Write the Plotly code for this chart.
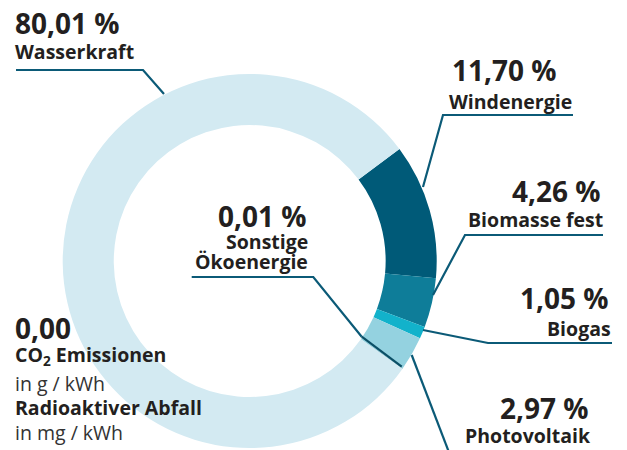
import plotly.graph_objects as go

W, H = 627, 450

# ---- data ----
labels = ["Windenergie", "Biomasse fest", "Biogas", "Photovoltaik", "Sonstige Ökoenergie", "Wasserkraft"]
values = [11.70, 4.26, 1.05, 2.97, 0.01, 80.01]
value_texts = ["11,70 %", "4,26 %", "1,05 %", "2,97 %", "0,01 %", "80,01 %"]
colors = ["#005a78", "#0e7d99", "#12b2cb", "#94d2e0", "#0b4f66", "#d3eaf2"]

LINE = "#0b5a77"
TXT = "#231f20"

def px(x):
    return x / W

def py(y):
    return 1 - y / H

cx, cy, R = 249.7, 261.0, 187.0

fig = go.Figure(go.Pie(
    labels=labels, values=values, sort=False, direction="clockwise",
    rotation=53.2, hole=0.727, textinfo="none", hoverinfo="label+percent",
    marker=dict(colors=colors, line=dict(width=0)),
    domain=dict(x=[px(cx - R), px(cx + R)], y=[py(cy + R), py(cy - R)]),
    showlegend=False,
))

FONT = "Open Sans"
ann = []

def label(x, y, text, size, anchor, bold=True, color=TXT):
    ann.append(dict(x=px(x), y=py(y), xref="paper", yref="paper", text=text,
                    showarrow=False, xanchor=anchor, yanchor="middle",
                    font=dict(family=FONT, size=size, color=color,
                              weight=700 if bold else 400),
                    borderpad=0))

NUM, NAME = 28, 19.5

# Wasserkraft (index 5)
label(14, 23, value_texts[5], NUM, "left")
label(14, 52, labels[5], NAME, "left")
# Windenergie
label(558, 70, value_texts[0], NUM, "right")
label(573, 101, labels[0], NAME, "right")
# Biomasse fest
label(602, 191, value_texts[1], NUM, "right")
label(604, 219, labels[1], NAME, "right")
# Biogas
label(610, 298, value_texts[2], NUM, "right")
label(612, 328, labels[2], NAME, "right")
# Photovoltaik
label(590, 408, value_texts[3], NUM, "right")
label(592, 435, labels[3], NAME, "right")
# Sonstige
label(308, 216, value_texts[4], NUM, "right")
label(309, 241, "Sonstige", NAME, "right")
label(309, 261, "Ökoenergie", NAME, "right")
# left block
label(14, 328, "0,00", NUM, "left")
label(14, 355, "CO<sub>2</sub> Emissionen", NAME, "left")
label(14, 383, "in g / kWh", NAME, "left", bold=False, color="#333333")
label(14, 407, "Radioaktiver Abfall", NAME, "left")
label(14, 432, "in mg / kWh", NAME, "left", bold=False, color="#333333")

def path(points, color=LINE):
    d = "M " + " L ".join(f"{px(x)},{py(y)}" for x, y in points)
    return dict(type="path", path=d, xref="paper", yref="paper",
                line=dict(color=color, width=2.2), layer="above")

shapes = [
    path([(16, 70), (143, 70), (164, 94)]),
    path([(573, 115), (443, 115), (423, 187)]),
    path([(603, 235), (465, 235), (433, 295)]),
    path([(612, 343), (488, 343), (423, 330)]),
    path([(411.7, 355), (450, 455)]),
    path([(191.7, 277), (313.3, 277), (361.7, 336.7)]),
    path([(361.7, 336.7), (401.7, 366.7)], color="#0b4f66"),
]

fig.update_layout(
    width=W, height=H, margin=dict(l=0, r=0, t=0, b=0),
    paper_bgcolor="white", plot_bgcolor="white",
    annotations=ann, shapes=shapes,
)

fig.write_html("out.html", config={"displayModeBar": False},
               post_script="document.body.style.margin='0';document.body.style.overflow='hidden';")
